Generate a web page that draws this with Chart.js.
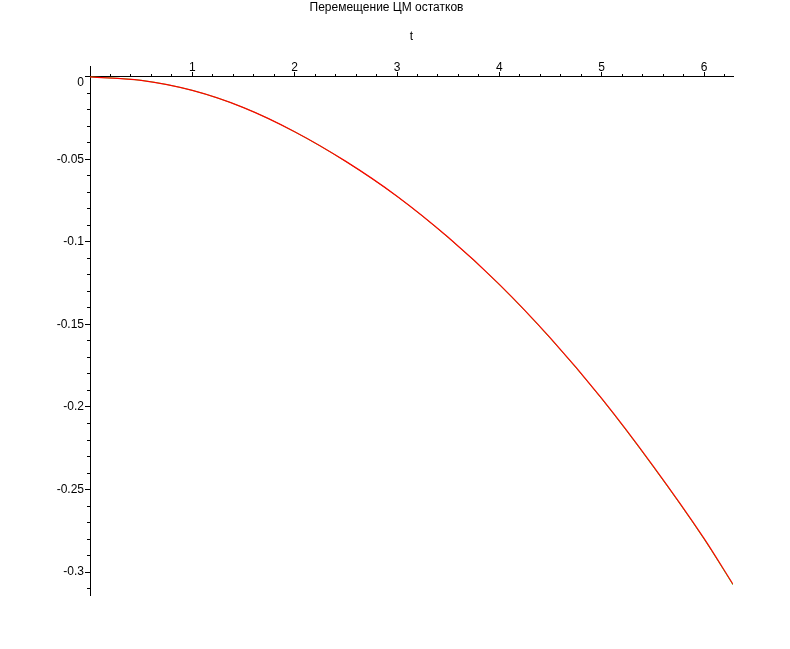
<!DOCTYPE html>
<html>
<head>
<meta charset="utf-8">
<script src="https://cdn.jsdelivr.net/npm/chart.js@4/dist/chart.umd.min.js"></script>
<style>
  html, body { margin: 0; padding: 0; background: #fff; }
  canvas { display: block; }
</style>
</head>
<body>
<canvas id="myChart" width="790" height="649"></canvas>
<script>
'use strict';

const chartTitle = 'Перемещение ЦМ остатков';
const axisLabel = 't';

// t values
const tValues = [0, 0.5, 1, 1.5, 2, 2.5, 3, 3.5, 4, 4.5, 5, 5.5, 6, 6.2832];
// red curve
const redValues = [0, -0.0021, -0.0082, -0.0186, -0.0332, -0.0512, -0.0723, -0.0972, -0.1257, -0.1583, -0.1948, -0.2355, -0.2796, -0.3074];
// green curve (almost on top of the red one)
const greenValues = [0, -0.0021, -0.0082, -0.0186, -0.0333, -0.0513, -0.0724, -0.0974, -0.1259, -0.1586, -0.1951, -0.2359, -0.2800, -0.3078];

// ticks
const xMajorTicks = [1, 2, 3, 4, 5, 6];
const yMajorTicks = [0, -0.05, -0.1, -0.15, -0.2, -0.25, -0.3];
const yTickLabels = [['', '0'], '-0.05', '-0.1', '-0.15', '-0.2', '-0.25', '-0.3'];

const xMin = 0;
const xMax = 6.2832;
const yMin = -0.3139;
const yMax = 0.0061;

// minor tick positions: every 0.2 on t, every 0.01 on y
const xMinorTicks = [];
for (let i = 1; i * 0.2 < xMax; i++) xMinorTicks.push(Math.round(i * 2) / 10);
const yMinorTicks = [];
for (let i = 0; -i * 0.01 > yMin; i++) yMinorTicks.push(-i / 100);

const font = { family: '"Liberation Sans", Arial, sans-serif', size: 12 };

const toPoints = function(vals){
  return tValues.map((t, i) => ({ x: t, y: vals[i] }));
};

const setTicks = function(list){
  return function(scale){ scale.ticks = list.map(v => ({ value: v })); };
};

var ctx = document.getElementById('myChart').getContext('2d');
var chart = new Chart(ctx, {
  type: 'line',
  data: {
    datasets: [{
      label: 'red',
      data: toPoints(redValues),
      borderColor: '#ff0000',
      borderWidth: 1.2,
      pointRadius: 0,
      cubicInterpolationMode: 'monotone',
      xAxisID: 'x',
      yAxisID: 'y',
    },
    {
      label: 'green',
      data: toPoints(greenValues),
      borderColor: '#00ff00',
      borderWidth: 0.8,
      pointRadius: 0,
      cubicInterpolationMode: 'monotone',
      xAxisID: 'x',
      yAxisID: 'y',
    }]
  },
  options: {
    responsive: false,
    animation: false,
    devicePixelRatio: 1,
    layout: { padding: { left: 40, right: 57, top: 0, bottom: 54 } },
    plugins: {
      legend: { display: false },
      tooltip: { enabled: false },
      title: {
        display: true,
        text: chartTitle,
        color: '#000',
        font: { family: font.family, size: 12, weight: 'normal' },
        padding: { top: 0, bottom: 8 },
      },
      subtitle: {
        display: true,
        text: axisLabel,
        color: '#000',
        fullSize: false,
        font: { family: font.family, size: 12, weight: 'normal' },
        padding: { top: 7, bottom: 23 },
      },
    },
    scales: {
      y: {
        type: 'linear',
        position: 'left',
        min: yMin,
        max: yMax,
        afterBuildTicks: setTicks(yMajorTicks),
        afterFit: function(scale){ scale.width = 50; },
        border: { display: true, color: '#000', width: 1 },
        grid: { drawOnChartArea: false, drawTicks: true, tickLength: 5, color: '#000' },
        ticks: {
          autoSkip: false,
          padding: 1,
          color: '#000',
          font: { family: font.family, size: 12, lineHeight: 1 },
          callback: function(v, i){ return yTickLabels[i]; },
        },
      },
      yMinor: {
        type: 'linear',
        position: { x: 0 },
        min: yMin,
        max: yMax,
        afterBuildTicks: setTicks(yMinorTicks),
        border: { display: false },
        grid: { drawOnChartArea: false, drawTicks: true, tickLength: 3, color: '#000' },
        ticks: { autoSkip: false, display: false },
      },
      x: {
        type: 'linear',
        position: { y: 0 },
        min: xMin,
        max: xMax,
        afterBuildTicks: setTicks(xMajorTicks),
        border: { display: true, color: '#000', width: 1 },
        grid: { drawOnChartArea: false, drawTicks: true, tickLength: -5, color: '#000' },
        ticks: {
          autoSkip: false,
          maxRotation: 0,
          padding: -11,
          color: '#000',
          font: font,
          callback: function(v){ return String(v); },
        },
      },
      xMinor: {
        type: 'linear',
        position: { y: 0 },
        min: xMin,
        max: xMax,
        afterBuildTicks: setTicks(xMinorTicks),
        border: { display: false },
        grid: { drawOnChartArea: false, drawTicks: true, tickLength: -3, color: '#000' },
        ticks: { autoSkip: false, display: false },
      },
    },
  },
});
</script>
</body>
</html>
